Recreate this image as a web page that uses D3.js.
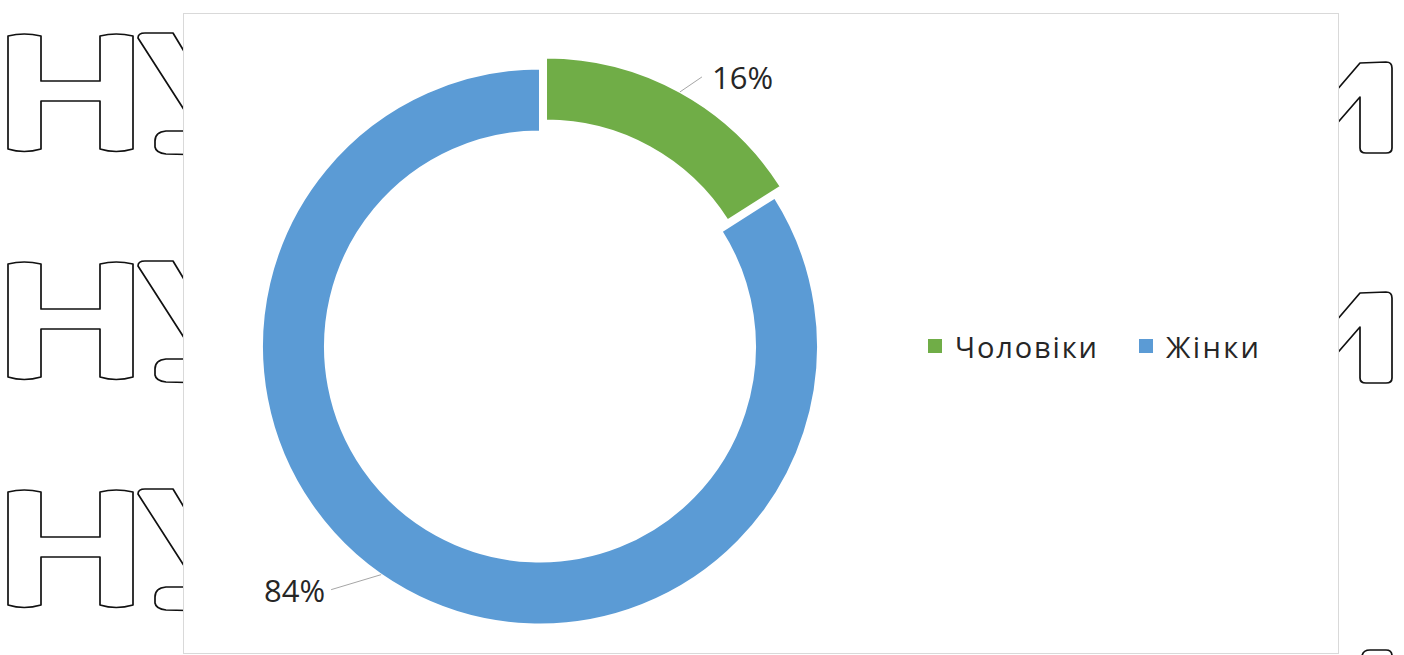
<!DOCTYPE html>
<html>
<head>
<meta charset="utf-8">
<script src="https://cdn.jsdelivr.net/npm/d3@7"></script>
<style>
  html, body { margin: 0; padding: 0; background: #ffffff; }
  svg { display: block; }
</style>
</head>
<body>
<svg id="chart" width="1404" height="655"></svg>
<script>
// Gender split of respondents
const categories = ["Чоловіки", "Жінки"];
const shares = [16, 84];
const colors = ["#70AD47", "#5B9BD5"];
const labelText = ["16%", "84%"];

const svg = d3.select("#chart");

// Outlined lettering on the page behind the chart panel
const bg = svg.append("g").attr("fill", "none").attr("stroke", "#111")
  .attr("stroke-width", 1.7).attr("stroke-linejoin", "round");
// "Н" glyph outline with softly rounded stem ends
const glyphH =
  "M0,3 Q16,-1 33,3 L33,48 L92,48 L92,3 Q108,-1 125,3 L125,116 Q108,121 92,116 L92,68 L33,68 L33,116 Q16,121 0,116 Z";
// left arm of "У" and the tail hook (rest hidden by the panel)
const glyphU =
  "M200,58 L165,0 L137,0 Q130,0 130,5 L200,114 M200,98 L158,98 Q147,99 147,108 L147,114 Q148,120 158,121 L200,122";
// "1" with its flag
const glyphOne =
  "M1300,113 L1360,43 L1386,42 Q1392,42 1392,48 L1392,128 Q1392,133 1386,133 L1366,133 Q1360,133 1360,128 L1360,77 L1300,146";
[0, 228, 456].forEach(dy => {
  bg.append("path").attr("d", glyphH).attr("transform", `translate(8,${33 + dy})`);
  bg.append("path").attr("d", glyphU).attr("transform", `translate(8,${33 + dy})`);
});
[20, 250].forEach(dy => {
  bg.append("path").attr("d", glyphOne).attr("transform", `translate(0,${dy})`);
});
bg.append("path").attr("d", "M1362,660 L1362,656 Q1363,650 1370,650 L1386,650 Q1392,650 1392,656 L1392,660");

// Chart panel
svg.append("rect")
  .attr("x", 183.5).attr("y", 13.5).attr("width", 1155).attr("height", 640)
  .attr("fill", "#ffffff").attr("stroke", "#d9d9d9").attr("stroke-width", 1);

const cx = 540, cy = 346.5;
const outerR = 278, innerR = 215;
const explode = [12.5, 0];

const pie = d3.pie().sort(null).value(d => d)(shares);
const arc = d3.arc().innerRadius(innerR).outerRadius(outerR);

const g = svg.append("g").attr("transform", `translate(${cx},${cy})`);

g.selectAll("path.slice").data(pie).join("path")
  .attr("class", "slice")
  .attr("d", arc)
  .attr("fill", (d, i) => colors[i])
  .attr("stroke", "#ffffff").attr("stroke-width", 2)
  .attr("transform", (d, i) => {
    const a = (d.startAngle + d.endAngle) / 2;
    return `translate(${Math.sin(a) * explode[i]},${-Math.cos(a) * explode[i]})`;
  });

// Data labels with leader lines
const labelStyle = [
  { at: 0.5, bend: [22, -15], text: [10, 0], anchor: "start" },
  { at: 0.52, bend: [-50, 15], text: [-6, 0], anchor: "end" }
];
pie.forEach((d, i) => {
  const s = labelStyle[i];
  const a = d.startAngle + (d.endAngle - d.startAngle) * s.at;
  const mid = (d.startAngle + d.endAngle) / 2;
  const ox = Math.sin(mid) * explode[i], oy = -Math.cos(mid) * explode[i];
  const p0 = [ox + Math.sin(a) * outerR, oy - Math.cos(a) * outerR];
  const p1 = [p0[0] + s.bend[0], p0[1] + s.bend[1]];
  g.append("path")
    .attr("d", d3.line()([p0, p1]))
    .attr("stroke", "#a6a6a6").attr("stroke-width", 1).attr("fill", "none");
  g.append("text")
    .attr("x", p1[0] + s.text[0]).attr("y", p1[1] + s.text[1])
    .attr("text-anchor", s.anchor)
    .attr("dominant-baseline", "central")
    .style("font-family", "'Open Sans', sans-serif")
    .style("font-size", "31px")
    .attr("fill", "#262626")
    .text(labelText[i]);
});

// Legend
const legend = svg.append("g").attr("transform", "translate(928,346)");
const legendX = [0, 211];
const legendW = [142, 93];
categories.forEach((c, i) => {
  const it = legend.append("g").attr("transform", `translate(${legendX[i]},0)`);
  it.append("rect").attr("x", 0).attr("y", -7).attr("width", 14).attr("height", 14).attr("fill", colors[i]);
  it.append("text").attr("x", 27).attr("y", 0)
    .attr("dominant-baseline", "central")
    .attr("textLength", legendW[i]).attr("lengthAdjust", "spacing")
    .style("font-family", "'Open Sans', sans-serif")
    .style("font-size", "29px")
    .attr("fill", "#262626")
    .text(c);
});
</script>
</body>
</html>
